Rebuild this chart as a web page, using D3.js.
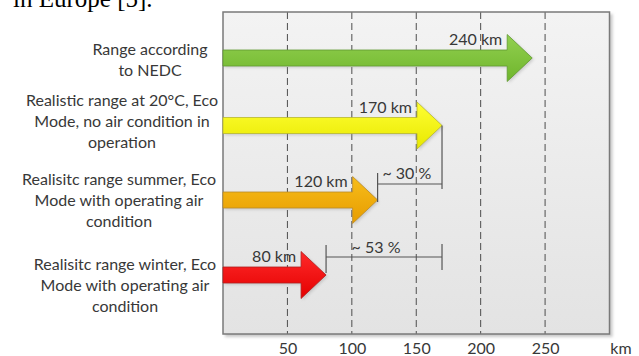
<!DOCTYPE html>
<html>
<head>
<meta charset="utf-8">
<script src="https://cdn.jsdelivr.net/npm/d3@7/dist/d3.min.js"></script>
<style>
  html, body { margin: 0; padding: 0; background: #ffffff; }
  svg { display: block; }
</style>
</head>
<body>
<svg id="chart" width="639" height="356"></svg>
<script>
// Driving range of an electric vehicle under different conditions
const categories = [
  ["Range according", "to NEDC"],
  ["Realistic range at 20°C, Eco", "Mode, no air condition in", "operation"],
  ["Realisitc range summer, Eco", "Mode with operating air", "condition"],
  ["Realisitc range winter, Eco", "Mode with operating air", "condition"]
];
const rangeKm = [240, 170, 120, 80];
const arrowColors = [
  ["#92d050", "#6fb52c", "#5f9a30"],
  ["#ffff33", "#e8e800", "#b8b830"],
  ["#f7bd1a", "#e79c00", "#b98a2a"],
  ["#ff2a2a", "#e40000", "#b02020"]
];
const tickValues = [50, 100, 150, 200, 250];
const axisUnit = "km";
const reductionFrom = [120, 80];
const reductionTo = 170;
const reductionLabels = ["~ 30 %", "~ 53 %"];

// Layout
const plot = { left: 223, right: 609.5, top: 12, bottom: 334 };
const rowCenters = [58, 125.5, 200, 275];
const labelX = [150, 122, 119, 125];
const labelFirstBaseline = [55, 106, 185, 270];
const lineHeight = 21;
const bodyHalf = 8, headHalf = 23.5, headLen = 25;
const textFont = "Lato, 'Open Sans', sans-serif";
const textSize = 16;
const textColor = "#383838";

const svg = d3.select("#chart");
const defs = svg.append("defs");

const x = d3.scaleLinear().domain([0, 300]).range([plot.left, plot.right]);

// Panel background gradient and shadow
const bg = defs.append("linearGradient").attr("id", "panelBg")
  .attr("x1", 0).attr("y1", 0).attr("x2", 0).attr("y2", 1);
bg.append("stop").attr("offset", "0%").attr("stop-color", "#f3f3f3");
bg.append("stop").attr("offset", "100%").attr("stop-color", "#e3e3e3");

defs.append("filter").attr("id", "soft")
  .attr("x", "-10%").attr("y", "-10%").attr("width", "120%").attr("height", "120%")
  .append("feGaussianBlur").attr("stdDeviation", 1.5);

arrowColors.forEach((c, i) => {
  const g = defs.append("linearGradient").attr("id", "arrowFill" + i)
    .attr("x1", 0).attr("y1", 0).attr("x2", 0).attr("y2", 1);
  g.append("stop").attr("offset", "0%").attr("stop-color", c[0]);
  g.append("stop").attr("offset", "100%").attr("stop-color", c[1]);
});

// Caption fragment above the figure
svg.append("text")
  .attr("x", 13).attr("y", 7)
  .attr("font-family", "'Liberation Serif', 'Times New Roman', serif")
  .attr("font-size", 25)
  .attr("fill", "#000")
  .text("in Europe [5].");

// Panel
svg.append("rect")
  .attr("x", plot.left + 2).attr("y", plot.top + 2)
  .attr("width", plot.right - plot.left + 1).attr("height", plot.bottom - plot.top + 1)
  .attr("fill", "#c8c8c8").attr("filter", "url(#soft)");
svg.append("rect")
  .attr("x", plot.left).attr("y", plot.top)
  .attr("width", plot.right - plot.left).attr("height", plot.bottom - plot.top)
  .attr("fill", "url(#panelBg)");

// Dashed gridlines
svg.append("g").selectAll("line").data(tickValues).join("line")
  .attr("x1", d => x(d)).attr("x2", d => x(d))
  .attr("y1", plot.top).attr("y2", plot.bottom)
  .attr("stroke", "#4d4d4d").attr("stroke-width", 1)
  .attr("stroke-dasharray", "7,4");

svg.append("rect")
  .attr("x", plot.left).attr("y", plot.top)
  .attr("width", plot.right - plot.left).attr("height", plot.bottom - plot.top)
  .attr("fill", "none").attr("stroke", "#7a7a7a").attr("stroke-width", 1.5);

// Axis tick labels
const axis = d3.axisBottom(x).tickValues(tickValues).tickSize(0).tickPadding(0);
const axisG = svg.append("g").attr("transform", `translate(0,${plot.bottom})`).call(axis);
axisG.select(".domain").remove();
axisG.selectAll("text")
  .attr("y", 20).attr("dy", null)
  .attr("font-family", textFont).attr("font-size", textSize).attr("fill", textColor);
svg.append("text")
  .attr("x", 621).attr("y", plot.bottom + 20)
  .attr("text-anchor", "middle")
  .attr("font-family", textFont).attr("font-size", textSize).attr("fill", textColor)
  .text(axisUnit);

// Category labels
categories.forEach((lines, i) => {
  const t = svg.append("text")
    .attr("font-family", textFont).attr("font-size", textSize).attr("fill", textColor)
    .attr("text-anchor", "middle");
  lines.forEach((ln, j) => {
    t.append("tspan").attr("x", labelX[i])
      .attr("y", labelFirstBaseline[i] + j * lineHeight).text(ln);
  });
});

// Arrows
function arrowPath(v, cy) {
  const x0 = x(0), tip = x(v), back = tip - headLen;
  return `M${x0},${cy - bodyHalf} L${back},${cy - bodyHalf} L${back},${cy - headHalf} ` +
         `L${tip},${cy} L${back},${cy + headHalf} L${back},${cy + bodyHalf} L${x0},${cy + bodyHalf} Z`;
}

const arrows = svg.append("g");
rangeKm.forEach((v, i) => {
  const cy = rowCenters[i];
  arrows.append("path")
    .attr("d", arrowPath(v, cy))
    .attr("transform", "translate(1.5,1.5)")
    .attr("fill", "#9a9a9a").attr("opacity", 0.45).attr("filter", "url(#soft)");
  arrows.append("path")
    .attr("d", arrowPath(v, cy))
    .attr("fill", `url(#arrowFill${i})`)
    .attr("stroke", arrowColors[i][2]).attr("stroke-width", 0.8)
    .attr("stroke-linejoin", "miter");
  arrows.append("text")
    .attr("x", x(v) - headLen - 5).attr("y", cy - 13)
    .attr("text-anchor", "end")
    .attr("font-family", textFont).attr("font-size", textSize).attr("fill", textColor)
    .text(`${v} km`);
});

// Range reduction brackets
const br = svg.append("g").attr("stroke", "#555").attr("stroke-width", 1.2).attr("fill", "none");
const toX = x(reductionTo);
// summer vs. 20°C
{
  const fx = x(reductionFrom[0]);
  br.append("line").attr("x1", fx).attr("x2", fx).attr("y1", 173).attr("y2", rowCenters[2] + 2);
  br.append("line").attr("x1", fx).attr("x2", toX).attr("y1", 184).attr("y2", 184);
  br.append("line").attr("x1", toX).attr("x2", toX).attr("y1", rowCenters[1]).attr("y2", 189);
  svg.append("text")
    .attr("x", (fx + toX) / 2 - 3).attr("y", 179).attr("text-anchor", "middle")
    .attr("font-family", textFont).attr("font-size", textSize).attr("fill", textColor)
    .text(reductionLabels[0]);
}
// winter vs. 20°C
{
  const fx = x(reductionFrom[1]);
  br.append("line").attr("x1", fx).attr("x2", fx).attr("y1", 245).attr("y2", rowCenters[3] - 2);
  br.append("line").attr("x1", fx).attr("x2", toX).attr("y1", 257).attr("y2", 257);
  br.append("line").attr("x1", toX).attr("x2", toX).attr("y1", 244).attr("y2", 270);
  svg.append("text")
    .attr("x", (fx + toX) / 2 - 8).attr("y", 253).attr("text-anchor", "middle")
    .attr("font-family", textFont).attr("font-size", textSize).attr("fill", textColor)
    .text(reductionLabels[1]);
}
</script>
</body>
</html>
